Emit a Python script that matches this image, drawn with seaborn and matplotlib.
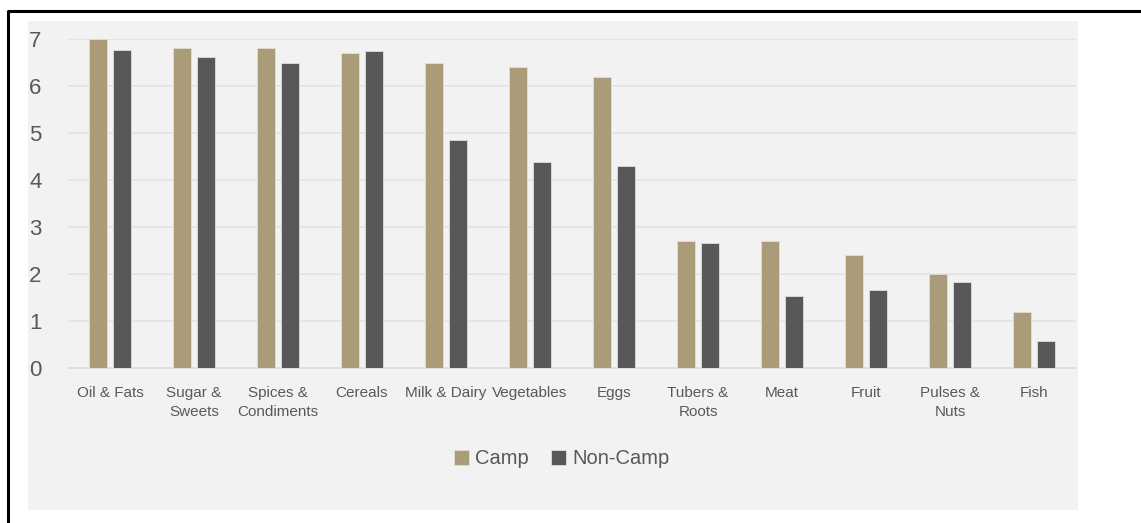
import pandas as pd
import matplotlib.pyplot as plt
import seaborn as sns
from matplotlib.lines import Line2D
from matplotlib.patches import Rectangle

# Data
categories = ["Oil & Fats", "Sugar &\nSweets", "Spices &\nCondiments", "Cereals",
              "Milk & Dairy", "Vegetables", "Eggs", "Tubers &\nRoots", "Meat",
              "Fruit", "Pulses &\nNuts", "Fish"]
camp = [7.0, 6.8, 6.8, 6.7, 6.5, 6.4, 6.2, 2.7, 2.7, 2.4, 2.0, 1.2]
non_camp = [6.76, 6.62, 6.5, 6.74, 4.85, 4.38, 4.3, 2.66, 1.54, 1.66, 1.84, 0.58]
groups = ["Camp", "Non-Camp"]

df = pd.DataFrame({
    "category": categories * 2,
    "value": camp + non_camp,
    "group": [groups[0]] * len(categories) + [groups[1]] * len(categories),
})

sns.set_theme(style="white")
plt.rcParams['font.family'] = ['Liberation Sans', 'DejaVu Sans']
text_color = "#595959"
palette = {"Camp": "#aa9c78", "Non-Camp": "#58585a"}

W, H = 1141, 523
fig = plt.figure(figsize=(W / 100, H / 100), dpi=100)
fig.patch.set_facecolor("white")

# light grey panel behind the chart
fig.add_artist(Rectangle((28 / W, 1 - 510 / H), (1078 - 28) / W, (510 - 21) / H,
                         transform=fig.transFigure, facecolor="#f2f2f2",
                         edgecolor="none", zorder=-10))
# black frame (left and top edges visible)
fig.add_artist(Line2D([8 / W, 8 / W, 1.0], [0.0, 1 - 11 / H, 1 - 11 / H],
                      transform=fig.transFigure, color="black", linewidth=2.2))

ax = fig.add_axes([68 / W, 1 - 368 / H, (1076 - 68) / W, (368 - 39) / H])
ax.set_facecolor("none")

sns.barplot(data=df, x="category", y="value", hue="group", palette=palette,
            saturation=1, width=0.57, gap=0.21, edgecolor="#e2dfd6",
            linewidth=0.6, ax=ax, zorder=3)

ax.set_ylim(0, 7)
ax.set_xlim(-0.5, len(categories) - 0.5)
ax.set_yticks(range(0, 8))
ax.yaxis.grid(True, color="#e3e3e3", linewidth=1.2, zorder=0)
ax.set_axisbelow(True)
for s in ["top", "right", "left"]:
    ax.spines[s].set_visible(False)
ax.spines["bottom"].set_color("#dddddd")
ax.spines["bottom"].set_linewidth(1.2)

ax.tick_params(axis="y", length=0, pad=19, labelsize=16, labelcolor=text_color)
ax.tick_params(axis="x", length=0, pad=13, labelsize=11, labelcolor=text_color)
for lbl in ax.get_xticklabels():
    lbl.set_linespacing(1.45)
ax.set_xlabel("")
ax.set_ylabel("")

ax.legend(loc="center", bbox_to_anchor=(562 / W, 1 - 459 / H),
          bbox_transform=fig.transFigure, ncol=2, frameon=False,
          fontsize=14.5, handlelength=0.75, handleheight=0.75, handletextpad=0.3,
          columnspacing=1.1, labelcolor=text_color)

fig.savefig("out.png", dpi=100)
